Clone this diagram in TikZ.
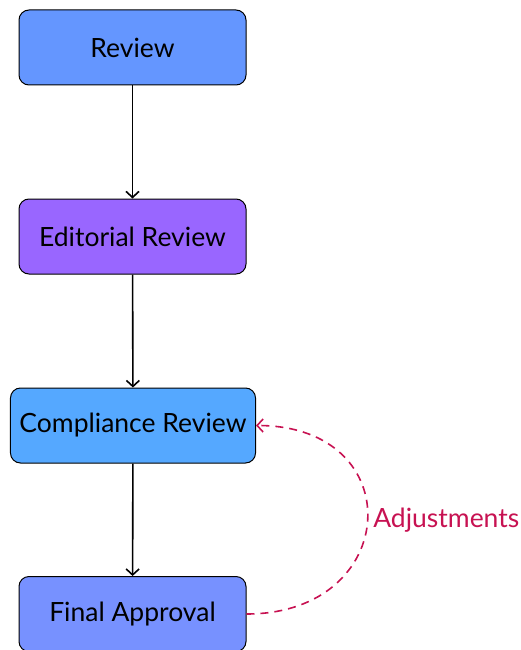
\documentclass[tikz,border=0pt]{standalone}
\usepackage{fontspec}
\setmainfont{Lato}
\usetikzlibrary{arrows.meta}
\definecolor{reviewblue}{RGB}{100,150,255}
\definecolor{editpurple}{RGB}{153,102,255}
\definecolor{complyblue}{RGB}{85,168,255}
\definecolor{finalblue}{RGB}{119,145,255}
\definecolor{adjustred}{RGB}{199,18,82}
\begin{document}
\begin{tikzpicture}[
  x=1pt, y=-1pt,
  >={Straight Barb[length=6pt, width=13pt]},
  every node/.style={font=\fontsize{26.5}{30}\selectfont, text=black},
  stage/.style={rectangle, rounded corners=10pt, draw=black, line width=1pt, minimum width=227pt, minimum height=75pt, inner xsep=9pt},
  flow/.style={->, line width=1.6pt},
  loopback/.style={->, adjustred, line width=1.6pt, dash pattern=on 8pt off 6pt}
]
  \useasboundingbox (0,0) rectangle (520,650);
  \node[stage, fill=reviewblue] (review) at (132.5,47.5) {Review};
  \node[stage, fill=editpurple] (editorial) at (132.5,236.5) {Editorial Review};
  \node[stage, fill=complyblue] (compliance) at (133,425.5) {Compliance Review};
  \node[stage, fill=finalblue] (final) at (132.5,614) {Final Approval};
  \draw[flow] (review) -- (editorial);
  \draw[flow] (editorial) -- (compliance);
  \draw[flow] (compliance) -- (final);
  \draw[loopback] (final.east) to[out=0, in=0, looseness=2.1] node[right, text=adjustred, inner sep=5pt] {Adjustments} (compliance.east);
\end{tikzpicture}
\end{document}
